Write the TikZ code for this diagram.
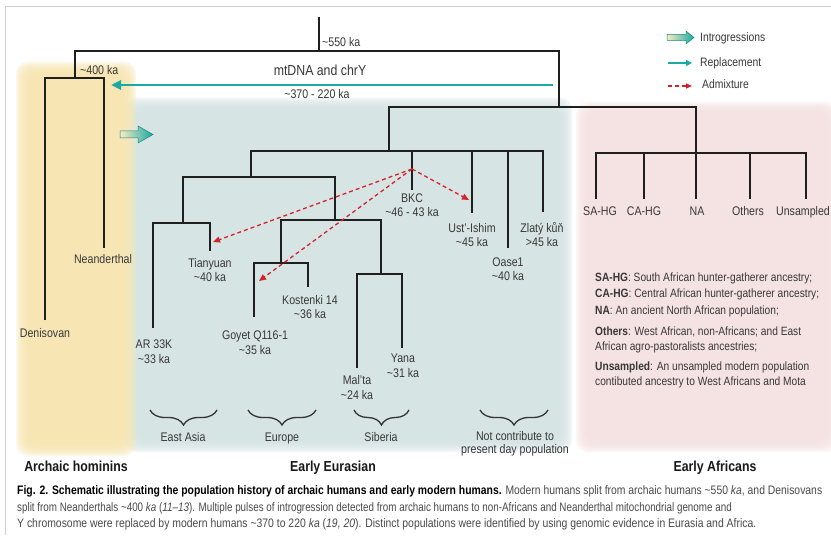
\documentclass[tikz,border=0pt]{standalone}
\usepackage{fontspec}
\setmainfont{Liberation Sans}[FakeStretch=0.85]
\newfontfamily\capfont{Liberation Sans}[FakeStretch=0.86]
\usetikzlibrary{arrows.meta,decorations.pathreplacing}
\definecolor{yel}{HTML}{F7E6B0}
\definecolor{blu}{HTML}{D5E3E3}
\definecolor{pnk}{HTML}{F5E1E1}
\definecolor{teal2}{HTML}{1AA9A5}
\definecolor{red2}{HTML}{D4232D}
\definecolor{txt}{HTML}{383838}
\definecolor{captxt}{HTML}{4A4A4A}
\newcommand\apx{\textasciitilde}
\newcommand\softbox[5]{%
  \foreach \i in {0,...,6}{%
    \fill[#1, fill opacity=0.32, rounded corners=12bp] ({#2+\i*2},{#3+\i*2}) rectangle ({#4-\i*2},{#5-\i*2});
  }%
}
\tikzset{
  tree/.style={line width=2.2bp, draw=black!88, line join=miter},
  lab/.style={text=txt, font=\fontsize{12.5bp}{14.5bp}\selectfont, inner sep=0pt, anchor=base, align=center},
  leg/.style={text=txt, font=\fontsize{12.2bp}{14bp}\selectfont, inner sep=0pt, anchor=base west},
  bold lab/.style={text=black!90, font=\fontsize{14.5bp}{16bp}\selectfont\bfseries, inner sep=0pt, anchor=base},
  note/.style={text=txt, font=\fontsize{12bp}{14bp}\selectfont, inner sep=0pt, anchor=base west},
  captext/.style={text=captxt, font=\capfont\fontsize{12.3bp}{14bp}\selectfont, inner sep=0pt, anchor=base west},
  admix/.style={draw=red2, line width=1.3bp, dash pattern=on 4bp off 3bp, -{Triangle[length=7bp,width=6bp]}},
  repl/.style={draw=teal2, line width=2.6bp, -{Triangle[length=10bp,width=9bp]}},
  brc/.style={draw=black!80, line width=1.3bp, decorate, decoration={brace, amplitude=15bp}},
  intro/.style={left color=yel!80!white, right color=teal2, draw=teal2!80!black, line width=0.5bp},
}
\begin{document}
\begin{tikzpicture}[x=1bp,y=-1bp]
\useasboundingbox (0,0) rectangle (831,543);
\fill[white] (0,0) rectangle (831,543);
% frame
\draw[black!18, line width=1bp] (5,535) -- (5,7) -- (831,7);
% soft backgrounds
\softbox{blu}{124}{98}{572}{452}
\softbox{yel}{16}{62}{136}{456}
\softbox{pnk}{576}{102}{838}{452}
% tree
\coordinate (r0) at (319,17);
\coordinate (r1) at (319,51);
\draw[tree] (r0) -- (r1);
\draw[tree] (75,78) |- (559,51) -- (559,107);
\draw[tree] (45,320) |- (104,78) -- (104,248);
\draw[tree] (389,151) |- (696,107) -- (696,199);
% Eurasians
\draw[tree] (251,177) |- (543,151) -- (543,212);
\coordinate (bkcTop) at (412,151);
\coordinate (bkcEnd) at (412,190);
\draw[tree] (bkcTop) -- (bkcEnd);
\draw[tree] (472,151) -- (472,213);
\draw[tree] (508,151) -- (508,248);
\draw[tree] (183,223) |- (335,177) -- (335,220);
\draw[tree] (153,328) |- (210,223) -- (210,251);
\draw[tree] (281,263) |- (381,220) -- (381,274);
\draw[tree] (254,317) |- (308,263) -- (308,287);
\draw[tree] (357,368) |- (402,274) -- (402,348);
% Africans
\draw[tree] (596,199) |- (806,153) -- (806,199);
\draw[tree] (644,153) -- (644,199);
\draw[tree] (750,153) -- (750,199);
% time labels
\node[lab, anchor=base west] (t550) at (322,47) {\apx550 ka};
\node[lab, anchor=base west] (t400) at (80,75) {\apx400 ka};
\node[lab, font=\fontsize{14.5bp}{16bp}\selectfont] (mt) at (320,76) {mtDNA and chrY};
\node[lab] (t370) at (317,99) {\apx370 - 220 ka};
% replacement arrow
\coordinate (replS) at (553,85);
\coordinate (replE) at (111,85);
\draw[repl] (replS) -- (replE);
% introgression arrow in picture
\shade[intro] (120,131) -- (138,131) -- (138,126) -- (153,134.5) -- (138,143) -- (138,138) -- (120,138) -- cycle;
% labels of leaves (base = last line)
\node[lab] (den) at (45,337) {Denisovan};
\node[lab] (nea) at (103,264) {Neanderthal};
\node[lab] (tia) at (210,282) {Tianyuan\\\apx40 ka};
\node[lab] (ar) at (154,363) {AR 33K\\\apx33 ka};
\node[lab] (goy) at (255,354) {Goyet Q116-1\\\apx35 ka};
\node[lab] (kos) at (310,319) {Kostenki 14\\\apx36 ka};
\node[lab] (mal) at (357,399) {Mal’ta\\\apx24 ka};
\node[lab] (yan) at (403,377) {Yana\\\apx31 ka};
\node[lab] (bkc) at (412,217) {BKC\\\apx46 - 43 ka};
\node[lab] (ust) at (472,247) {Ust’-Ishim\\\apx45 ka};
\node[lab] (zla) at (542,247) {Zlatý kůň\\>45 ka};
\node[lab] (oas) at (508,281) {Oase1\\\apx40 ka};
% admixture arrows
\coordinate (adm) at (412,169);
\coordinate (admT) at (213,242);
\coordinate (admG) at (259,281);
\coordinate (admU) at (469,200);
\draw[admix] (adm) -- (admT);
\draw[admix] (adm) -- (admG);
\draw[admix] (adm) -- (admU);
% African labels
\node[lab] (sa) at (600,216) {SA-HG};
\node[lab] (ca) at (644,216) {CA-HG};
\node[lab] (na) at (697,216) {NA};
\node[lab] (ot) at (748,216) {Others};
\node[lab] (un) at (803,216) {Unsampled};
\node[note] (n1) at (595,282) {\textbf{SA-HG}: South African hunter-gatherer ancestry;};
\node[note] (n2) at (595,298) {\textbf{CA-HG}: Central African hunter-gatherer ancestry;};
\node[note] (n3) at (595,315) {\textbf{NA}: An ancient North African population;};
\node[note] (n4) at (595,335) {\textbf{Others}: West African, non-Africans; and East};
\node[note] (n5) at (595,350) {African agro-pastoralists ancestries;};
\node[note] (n6) at (595,370) {\textbf{Unsampled}: An unsampled modern population};
\node[note] (n7) at (595,385) {contibuted ancestry to West Africans and Mota};
% braces (drawn right to left so they open downwards)
\draw[brc] (217,410) -- (150,410);
\draw[brc] (316,410) -- (248,410);
\draw[brc] (409,410) -- (354,410);
\draw[brc] (548,410) -- (480,410);
\node[lab] (ea) at (183,441) {East Asia};
\node[lab] (eu) at (282,441) {Europe};
\node[lab] (si) at (381,441) {Siberia};
\node[lab, font=\fontsize{12.5bp}{12.5bp}\selectfont] (nc) at (515,453) {Not contribute to\\present day population};
% legend
\shade[intro] (667,34.5) -- (686,34.5) -- (686,31) -- (694,37.5) -- (686,44) -- (686,40.5) -- (667,40.5) -- cycle;
\node[leg] (lg1) at (700,42) {Introgressions};
\coordinate (lr1) at (668,63);
\coordinate (lr2) at (692,63);
\draw[draw=teal2, line width=2bp, -{Triangle[length=6bp,width=6bp]}] (lr1) -- (lr2);
\node[leg] (lg2) at (700,67) {Replacement};
\coordinate (la1) at (668,86);
\coordinate (la2) at (692,86);
\draw[draw=red2, line width=1.3bp, dash pattern=on 4bp off 3bp, -{Triangle[length=6bp,width=5bp]}] (la1) -- (la2);
\node[leg] (lg3) at (702,89) {Admixture};
% group titles
\node[bold lab] (g1) at (76,471) {Archaic hominins};
\node[bold lab] (g2) at (333,471) {Early Eurasian};
\node[bold lab] (g3) at (715,471) {Early Africans};
% caption
\node[captext] (c1) at (17,494) {\scalebox{0.982}[1]{\textbf{\textcolor{black}{Fig. 2. Schematic illustrating the population history of archaic humans and early modern humans.}} Modern humans split from archaic humans \apx550 \textit{ka}, and Denisovans}};
\node[captext] (c2) at (17,511) {\scalebox{0.93}[1]{split from Neanderthals \apx400 \textit{ka} (\textit{11–13}). Multiple pulses of introgression detected from archaic humans to non-Africans and Neanderthal mitochondrial genome and}};
\node[captext] (c3) at (17,527) {\scalebox{0.985}[1]{Y chromosome were replaced by modern humans \apx370 to 220 \textit{ka} (\textit{19, 20}). Distinct populations were identified by using genomic evidence in Eurasia and Africa.}};
\end{tikzpicture}
\end{document}
